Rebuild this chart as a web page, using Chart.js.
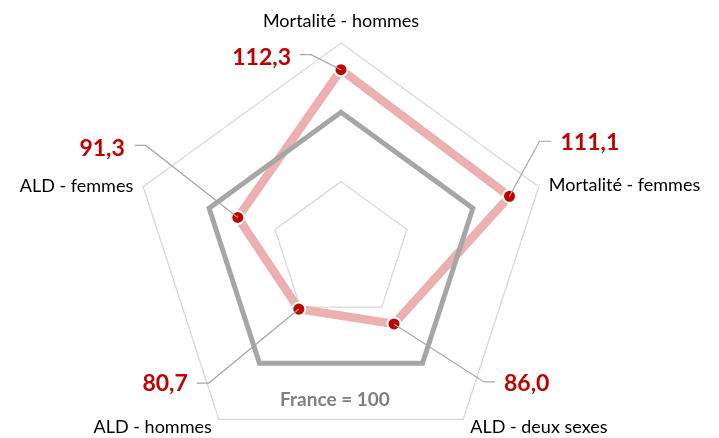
<!DOCTYPE html>
<html>
<head>
<meta charset="utf-8">
<script src="https://cdn.jsdelivr.net/npm/chart.js@4"></script>
<style>
  html, body { margin: 0; padding: 0; overflow: hidden; background: #fff; }
</style>
</head>
<body>
<canvas id="radarChart" width="719" height="470"></canvas>
<script>
// data
const categories = ['Mortalité - hommes', 'Mortalité - femmes', 'ALD - deux sexes', 'ALD - hommes', 'ALD - femmes'];
const territoire = [112.3, 111.1, 86.0, 80.7, 91.3];
const france = [100, 100, 100, 100, 100];
const scaleMin = 60;
const scaleMax = 120;
const scaleStep = 20;
const referenceLabel = 'France = 100';

// where the value labels sit, relative to their point: elbow, line end, text anchor
const valueLayout = [
    { elbow: [-30, -15], end: [-41, -15], text: [-50, -5], align: 'right' },
    { elbow: [30, -55], end: [42, -55], text: [51, -46], align: 'left' },
    { elbow: [90, 58], end: [101, 58], text: [110, 67], align: 'left' },
    { elbow: [-90, 74], end: [-102, 74], text: [-111, 82], align: 'right' },
    { elbow: [-92, -72], end: [-103, -72], text: [-113, -61], align: 'right' },
];
// category labels, relative to the outer ring vertex
const categoryLayout = [
    { d: [0, -16], align: 'center' },
    { d: [10, 4], align: 'left' },
    { d: [7, 14], align: 'left' },
    { d: [-7, 14], align: 'right' },
    { d: [-10, 5], align: 'right' },
];

function fmt(v) {
    return v.toFixed(1).replace('.', ',');
}

const labelPlugin = {
    id: 'radarLabels',
    afterDatasetsDraw(chart) {
        const ctx = chart.ctx;
        const scale = chart.scales.r;
        const meta = chart.getDatasetMeta(0);
        ctx.save();

        // category names
        ctx.fillStyle = '#000';
        ctx.font = '18px Lato';
        ctx.textBaseline = 'alphabetic';
        categories.forEach((name, i) => {
            const p = scale.getPointPositionForValue(i, scaleMax);
            const c = categoryLayout[i];
            ctx.textAlign = c.align;
            ctx.fillText(name, p.x + c.d[0], p.y + c.d[1]);
        });

        // leader lines + values
        meta.data.forEach((pt, i) => {
            const l = valueLayout[i];
            ctx.strokeStyle = '#a6a6a6';
            ctx.lineWidth = 1.2;
            ctx.beginPath();
            ctx.moveTo(pt.x, pt.y);
            ctx.lineTo(pt.x + l.elbow[0], pt.y + l.elbow[1]);
            ctx.lineTo(pt.x + l.end[0], pt.y + l.end[1]);
            ctx.stroke();

            ctx.fillStyle = '#c00000';
            ctx.font = 'bold 23px Lato';
            ctx.textAlign = l.align;
            ctx.fillText(fmt(territoire[i]), pt.x + l.text[0], pt.y + l.text[1]);
        });

        // reference caption
        ctx.fillStyle = '#7f7f7f';
        ctx.font = 'bold 19px Lato';
        ctx.textAlign = 'center';
        ctx.fillText(referenceLabel, scale.xCenter - 6, scale.yCenter + 155);

        ctx.restore();
    }
};

const ctx = document.getElementById('radarChart').getContext('2d');
const myChart = new Chart(ctx, {
    type: 'radar',
    data: {
        labels: categories,
        datasets: [{
            label: 'Territoire',
            data: territoire,
            borderColor: '#ecb0b0',
            borderWidth: 8.5,
            backgroundColor: 'transparent',
            pointRadius: 6.5,
            pointBackgroundColor: '#c00000',
            pointBorderColor: '#fff',
            pointBorderWidth: 2,
            tension: 0,
            order: 2,
        }, {
            label: 'France',
            data: france,
            borderColor: '#a6a6a6',
            borderWidth: 5,
            backgroundColor: 'transparent',
            pointRadius: 0,
            borderJoinStyle: 'miter',
            tension: 0,
            order: 1,
        }],
    },
    options: {
        responsive: false,
        animation: false,
        layout: { padding: { left: 133, right: 170, top: 43, bottom: 11 } },
        plugins: {
            legend: { display: false },
            tooltip: { enabled: false },
        },
        scales: {
            r: {
                min: scaleMin,
                max: scaleMax,
                ticks: { display: false, stepSize: scaleStep },
                grid: { color: '#d9d9d9', lineWidth: 1.3 },
                angleLines: { display: false },
                pointLabels: { display: false },
            },
        },
    },
    plugins: [labelPlugin],
});
</script>
</body>
</html>
